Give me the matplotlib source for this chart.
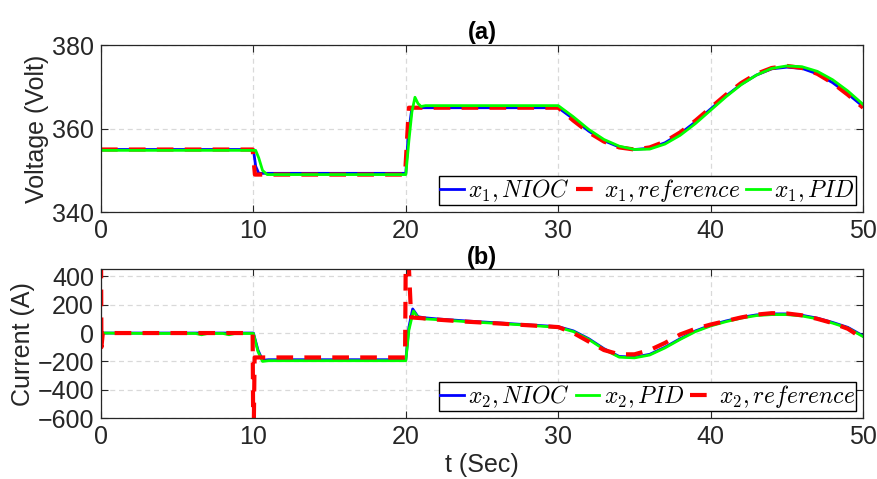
import matplotlib
matplotlib.use("Agg")
from matplotlib import pyplot as plt

plt.rcParams["font.family"] = ["Liberation Sans", "DejaVu Sans"]
plt.rcParams["mathtext.fontset"] = "cm"

# ---- voltage x1 ----
t_ref1 = [0, 9.95, 10.1, 19.95, 20.2, 30, 31, 32, 33, 34, 35, 36, 37, 38, 39, 40,
          41, 42, 43, 44, 45, 46, 47, 48, 49, 50]
v_ref1 = [355, 355, 349, 349, 365, 365, 361.9, 359.1, 356.9, 355.5, 355, 355.5, 356.9,
          359.1, 361.9, 365, 368.1, 370.9, 373.1, 374.5, 375, 374.5, 373.1, 370.9, 368.1, 365]

t_nioc1 = [0, 10.0, 10.15, 10.35, 20.0, 20.15, 20.4, 30, 31, 32, 33, 34, 35, 36, 37,
           38, 39, 40, 41, 42, 43, 44, 45, 46, 47, 48, 49, 50]
v_nioc1 = [355, 355, 351, 349.3, 349.3, 358, 365, 365, 362.3, 359.4, 357.1, 355.6, 355.0,
           355.3, 356.6, 358.8, 361.6, 364.7, 367.8, 370.6, 372.8, 374.3, 374.7, 374.4,
           373.1, 371.0, 368.3, 365.3]

t_pid1 = [0, 10.15, 10.35, 10.6, 10.9, 20.0, 20.2, 20.4, 20.6, 20.8, 21.0, 21.3, 30,
          31, 32, 33, 34, 35, 36, 37, 38, 39, 40, 41, 42, 43, 44, 45, 46, 47, 48, 49, 50]
v_pid1 = [354.8, 354.8, 353, 350, 349, 349, 357, 364, 367.5, 366, 365.3, 365.5, 365.5,
          362.8, 359.8, 357.4, 355.8, 355.0, 355.1, 356.3, 358.4, 361.2, 364.4, 367.6,
          370.5, 372.8, 374.4, 375.0, 374.8, 373.7, 371.7, 369.0, 365.8]

# ---- current x2 ----
t_ref2 = [0, 0.03, 0.12, 9.95, 10.0, 10.08, 19.95, 20.02, 20.35, 21, 22, 24, 26, 28, 30,
          31, 32, 33, 34, 35, 36, 37, 38, 39, 40, 41, 42, 43, 44, 45, 46, 47, 48, 49, 50]
i_ref2 = [700, -100, 0, 0, -900, -172, -172, 900, 110, 105, 95, 80, 68, 55, 42,
          0, -60, -120, -150, -150, -120, -70, -10, 30, 60, 85, 110, 130, 140, 138,
          125, 100, 70, 30, -40]

t_nioc2 = [0, 10.0, 10.3, 10.6, 11.0, 20.0, 20.2, 20.45, 20.8, 21.2, 22, 24, 26, 28, 30,
           31, 32, 33, 34, 35, 36, 37, 38, 39, 40, 41, 42, 43, 44, 45, 46, 47, 48, 49, 50]
i_nioc2 = [0, 0, -120, -192, -188, -188, 40, 170, 115, 108, 100, 85, 72, 58, 45,
           15, -40, -110, -165, -170, -150, -100, -40, 15, 55, 85, 110, 128, 135, 135,
           125, 105, 75, 40, -20]

t_pid2 = [0, 3, 6.2, 6.6, 7.0, 8.0, 8.4, 8.8, 10.0, 10.3, 10.6, 11.0, 20.0, 20.2, 20.5,
          20.8, 21.2, 22, 24, 26, 28, 30, 31, 32, 33, 34, 35, 36, 37, 38, 39, 40, 41, 42,
          43, 44, 45, 46, 47, 48, 49, 50]
i_pid2 = [0, -3, -3, -12, -3, -3, -12, -3, -3, -130, -200, -195, -195, 20, 155,
          110, 100, 95, 80, 68, 55, 40, 10, -45, -115, -170, -175, -155, -105, -45, 10,
          50, 80, 105, 123, 130, 130, 120, 100, 70, 35, -25]

BLUE, RED, GREEN = "#0000ff", "#ff0000", "#00ff00"
AX_COLOR = "#262626"
DASH = (0, (4, 2.7))


def style_axes(ax):
    ax.grid(True, linestyle=(0, (4, 3)), color="#d9d9d9", linewidth=0.9)
    ax.set_axisbelow(True)
    ax.tick_params(direction="in", top=True, right=True, labelsize=18,
                   colors=AX_COLOR, length=5, width=0.8, pad=5)
    for s in ax.spines.values():
        s.set_color(AX_COLOR)
        s.set_linewidth(0.9)
    ax.set_xlim(0, 50)
    ax.set_xticks([0, 10, 20, 30, 40, 50])


def add_legend(ax):
    ax.legend(loc="lower right", ncol=3, fontsize=17, frameon=True, fancybox=False,
              edgecolor="black", framealpha=1, handlelength=1.0, handletextpad=0.2,
              columnspacing=0.25, borderpad=0.05, borderaxespad=0.3)


fig = plt.figure(figsize=(8.78, 4.79), dpi=100)

# (a) voltage
ax1 = fig.add_axes([0.115, 0.557, 0.868, 0.349])
ax1.plot(t_nioc1, v_nioc1, color=BLUE, lw=2, label=r"$x_1, NIOC$")
ax1.plot(t_ref1, v_ref1, color=RED, lw=3, linestyle=DASH, label=r"$x_1, reference$")
ax1.plot(t_pid1, v_pid1, color=GREEN, lw=2, label=r"$x_1, PID$")
style_axes(ax1)
ax1.set_ylim(340, 380)
ax1.set_yticks([340, 360, 380])
ax1.set_ylabel("Voltage (Volt)", fontsize=18, color=AX_COLOR, labelpad=2)
ax1.set_title("(a)", fontsize=17, fontweight="bold", pad=4)
add_legend(ax1)

# (b) current
ax2 = fig.add_axes([0.115, 0.127, 0.868, 0.311])
ax2.plot(t_nioc2, i_nioc2, color=BLUE, lw=2, label=r"$x_2, NIOC$")
ax2.plot(t_pid2, i_pid2, color=GREEN, lw=2, label=r"$x_2, PID$")
ax2.plot(t_ref2, i_ref2, color=RED, lw=3, linestyle=DASH, label=r"$x_2, reference$")
style_axes(ax2)
ax2.set_ylim(-600, 450)
ax2.set_yticks([-600, -400, -200, 0, 200, 400])
ax2.set_ylabel("Current (A)", fontsize=18, color=AX_COLOR, labelpad=2)
ax2.set_xlabel("t (Sec)", fontsize=18, color=AX_COLOR, labelpad=3)
ax2.set_title("(b)", fontsize=17, fontweight="bold", pad=4)
add_legend(ax2)

fig.savefig("out.png", dpi=100)
